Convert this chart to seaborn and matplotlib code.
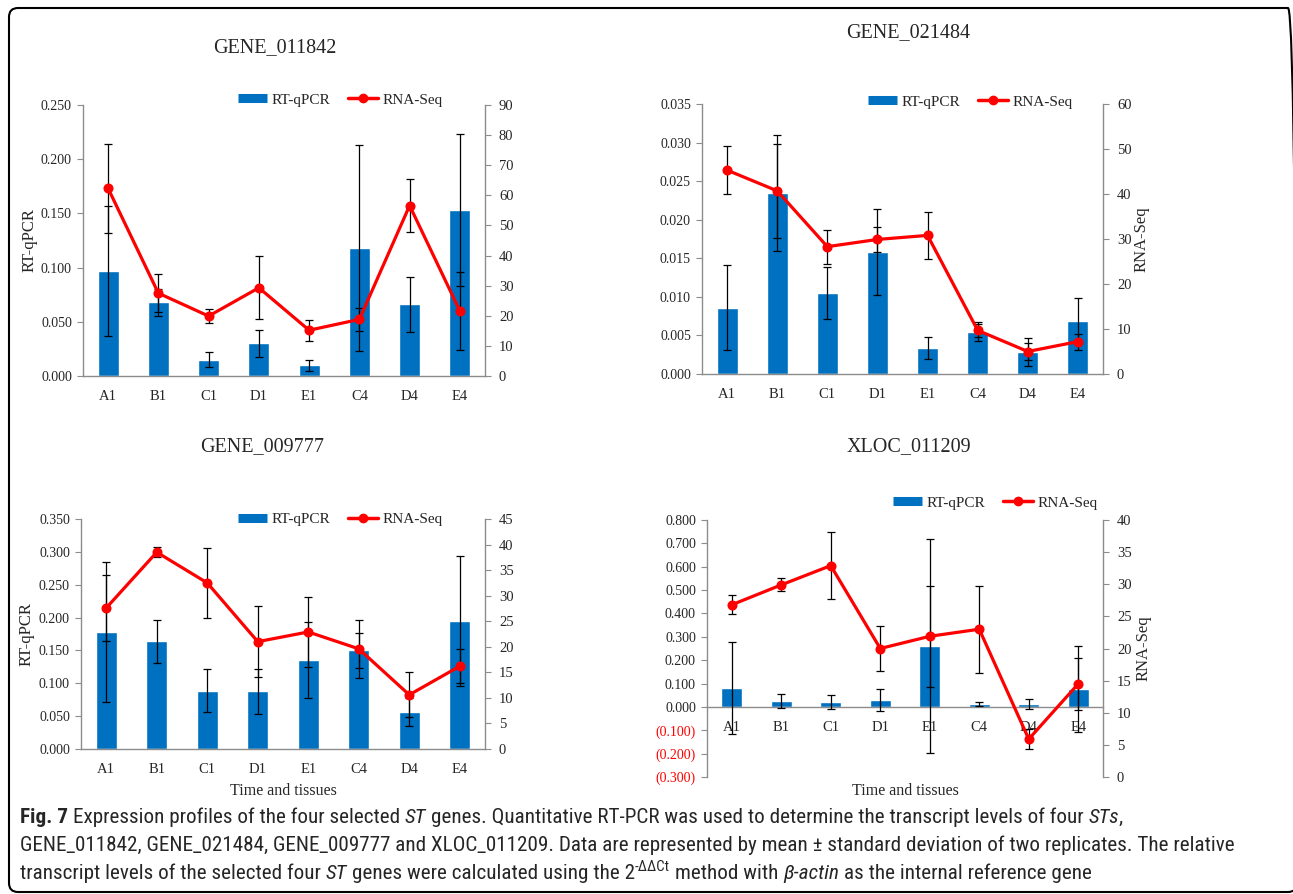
import numpy as np
import pandas as pd
import matplotlib
matplotlib.use("Agg")
import matplotlib.pyplot as plt
import seaborn as sns
from matplotlib.patches import FancyBboxPatch
from matplotlib.lines import Line2D

sns.set_style("white")
plt.rcParams['font.family'] = ['Liberation Serif', 'DejaVu Serif']
plt.rcParams['axes.unicode_minus'] = False

# 数据
samples = ["A1", "B1", "C1", "D1", "E1", "C4", "D4", "E4"]

# GENE_011842
g1_qpcr = [0.097, 0.068, 0.015, 0.030, 0.010, 0.118, 0.066, 0.153]
g1_qpcr_sd = [0.060, 0.0125, 0.007, 0.0125, 0.005, 0.095, 0.025, 0.070]
g1_seq = [62.3, 27.5, 19.9, 29.3, 15.2, 18.8, 56.6, 21.6]
g1_seq_sd = [14.7, 6.4, 2.2, 10.4, 3.5, 3.7, 8.8, 12.8]

# GENE_021484
g2_qpcr = [0.0086, 0.0235, 0.0105, 0.0158, 0.0034, 0.0055, 0.0029, 0.0069]
g2_qpcr_sd = [0.0055, 0.0075, 0.0034, 0.0056, 0.00145, 0.0012, 0.0018, 0.0029]
g2_seq = [45.3, 40.7, 28.3, 29.9, 30.8, 9.7, 5.0, 7.2]
g2_seq_sd = [5.3, 10.5, 3.8, 2.8, 5.3, 1.5, 1.85, 1.8]

# GENE_009777
g3_qpcr = [0.178, 0.164, 0.089, 0.088, 0.135, 0.150, 0.056, 0.195]
g3_qpcr_sd = [0.107, 0.033, 0.032, 0.034, 0.058, 0.026, 0.021, 0.099]
g3_seq = [27.6, 38.5, 32.5, 21.0, 22.9, 19.6, 10.6, 16.2]
g3_seq_sd = [6.5, 1.0, 6.9, 7.0, 6.8, 5.65, 4.4, 3.3]

# XLOC_011209
g4_qpcr = [0.081, 0.026, 0.021, 0.030, 0.261, 0.013, 0.013, 0.077]
g4_qpcr_sd = [0.198, 0.029, 0.028, 0.048, 0.457, 0.010, 0.020, 0.185]
g4_seq = [26.8, 29.9, 32.9, 20.0, 21.9, 23.0, 5.9, 14.5]
g4_seq_sd = [1.5, 1.0, 5.2, 3.5, 7.9, 6.8, 1.5, 4.0]

BLUE = "#0070C0"
RED = "#FF0000"
GREY = "#8C8C8C"
W, H = 1293, 894

fig = plt.figure(figsize=(W / 100, H / 100), dpi=100)


def px_rect(left, right, top, bottom):
    return [left / W, 1 - bottom / H, (right - left) / W, (bottom - top) / H]


def panel(rect, title, title_xy, qpcr, qpcr_sd, seq, seq_sd, lim, step, rlim, rstep,
          left_label=None, right_label=None, xlabel=None, leg_xy=None, zero_axis=False):
    ax = fig.add_axes(px_rect(*rect))
    df = pd.DataFrame({"sample": samples, "qpcr": qpcr})
    sns.barplot(data=df, x="sample", y="qpcr", color=BLUE, width=0.42,
                saturation=1, errorbar=None, ax=ax, zorder=2)
    ax.errorbar(np.arange(len(samples)), qpcr, yerr=qpcr_sd, fmt="none",
                ecolor="black", elinewidth=0.9, capsize=3, capthick=0.9, zorder=3)

    ax2 = ax.twinx()
    df2 = pd.DataFrame({"sample": samples, "seq": seq})
    sns.pointplot(data=df2, x="sample", y="seq", color=RED, markers="o",
                  errorbar=None, markersize=5.5, linewidth=2.3, ax=ax2)
    ax2.errorbar(np.arange(len(samples)), seq, yerr=seq_sd, fmt="none",
                 ecolor="black", elinewidth=0.9, capsize=3, capthick=0.9, zorder=1)

    ax.set_xlim(-0.5, len(samples) - 0.5)
    ax.set_ylim(*lim)
    ax2.set_ylim(*rlim)
    ticks = np.arange(lim[0], lim[1] + step / 2, step)
    ax.set_yticks(ticks)
    ax.set_yticklabels([f"({abs(t):.3f})" if t < -1e-9 else f"{abs(t):.3f}" for t in ticks])
    for t, lab in zip(ticks, ax.get_yticklabels()):
        if t < -1e-9:
            lab.set_color(RED)
    rticks = np.arange(rlim[0], rlim[1] + rstep / 2, rstep)
    ax2.set_yticks(rticks)
    ax2.set_yticklabels([f"{t:.0f}" for t in rticks])

    for a in (ax, ax2):
        a.spines["top"].set_visible(False)
        for s in a.spines.values():
            s.set_color(GREY)
            s.set_linewidth(1.0)
        a.set_xlabel("")
        a.set_ylabel("")
    ax2.spines["left"].set_visible(False)
    ax2.spines["bottom"].set_visible(False)
    ax.spines["right"].set_visible(False)
    if zero_axis:
        ax.spines["bottom"].set_position(("data", 0))

    ax.tick_params(axis="y", direction="out", length=4, color=GREY, labelsize=10, pad=4)
    ax2.tick_params(axis="y", direction="out", length=4, color=GREY, labelsize=10.5, pad=6)
    ax.tick_params(axis="x", length=0, labelsize=10.5, pad=10)

    if left_label:
        ax.set_ylabel(left_label[0], fontsize=12)
        ax.yaxis.set_label_coords(left_label[1], 0.5)
    if right_label:
        ax2.set_ylabel(right_label[0], fontsize=12)
        ax2.yaxis.set_label_coords(right_label[1], 0.5)
    if xlabel:
        ax.set_xlabel(xlabel[0], fontsize=11.5)
        ax.xaxis.set_label_coords(0.5, xlabel[1])

    fig.text(title_xy[0] / W, 1 - title_xy[1] / H, title, fontsize=14.5,
             ha="center", va="center")

    handles = [Line2D([], [], color=BLUE, lw=6.5, solid_capstyle="butt"),
               Line2D([], [], color=RED, lw=2.5, marker="o", markersize=6)]
    fig.legend(handles, ["RT-qPCR", "RNA-Seq"], loc="center",
               bbox_to_anchor=(leg_xy[0] / W, 1 - leg_xy[1] / H), ncol=2,
               frameon=False, fontsize=11, handlelength=1.9, handletextpad=0.3,
               columnspacing=1.2, borderaxespad=0, borderpad=0)
    return ax, ax2


panel((83, 485, 105, 376), "GENE_011842", (275, 48), g1_qpcr, g1_qpcr_sd, g1_seq, g1_seq_sd,
      (0, 0.25), 0.05, (0, 90), 10, left_label=("RT-qPCR", -0.112), leg_xy=(340, 100))
panel((702, 1103, 104, 374), "GENE_021484", (908, 33), g2_qpcr, g2_qpcr_sd, g2_seq, g2_seq_sd,
      (0, 0.035), 0.005, (0, 60), 10, right_label=("RNA-Seq", 1.077), leg_xy=(970, 102))
panel((81, 485, 519, 749), "GENE_009777", (262, 447), g3_qpcr, g3_qpcr_sd, g3_seq, g3_seq_sd,
      (0, 0.35), 0.05, (0, 45), 5, left_label=("RT-qPCR", -0.114),
      xlabel=("Time and tissues", -0.148), leg_xy=(340, 519))
panel((707, 1103, 520, 777), "XLOC_011209", (909, 447), g4_qpcr, g4_qpcr_sd, g4_seq, g4_seq_sd,
      (-0.3, 0.8), 0.1, (0, 40), 5, right_label=("RNA-Seq", 1.081),
      xlabel=("Time and tissues", -0.023), leg_xy=(995, 503), zero_axis=True)

# 图注（分段排版）
cap_family = ['Liberation Sans Narrow', 'Roboto Condensed', 'Roboto', 'DejaVu Sans']
caption = [
    [("Fig. 7", "bold", "normal", False), ("Expression profiles of the four selected", "normal", "normal", True),
     ("ST", "normal", "italic", True), ("genes. Quantitative RT-PCR was used to determine the transcript levels of four", "normal", "normal", True),
     ("STs", "normal", "italic", True), (",", "normal", "normal", False)],
    [("GENE_011842, GENE_021484, GENE_009777 and XLOC_011209. Data are represented by mean \u00b1 standard deviation of two replicates. The relative", "normal", "normal", False)],
    [("transcript levels of the selected four", "normal", "normal", False), ("ST", "normal", "italic", True),
     ("genes were calculated using the 2", "normal", "normal", True), ("-\u0394\u0394Ct", "sup", "normal", False),
     ("method with", "normal", "normal", True), ("\u03b2-actin", "normal", "italic", True),
     ("as the internal reference gene", "normal", "normal", True)],
]
renderer = fig.canvas.get_renderer()


def run_width(text, size, weight="normal", style="normal"):
    t = fig.text(0, 0, text, fontsize=size, family=cap_family, weight=weight, style=style)
    w = t.get_window_extent(renderer).width
    t.remove()
    return w


base = 14.0
scale = (1245 - 20) / run_width(caption[1][0][0], base)
size = base * scale
space = run_width("a a", size) - run_width("aa", size)

for line, base_y in zip(caption, (823, 851, 879)):
    x = 20.0
    for text, weight, style, gap in line:
        if gap:
            x += space
        fsize = size
        y = base_y
        if weight == "sup":
            fsize = size * 0.7
            y = base_y - size * 0.55
            weight = "normal"
        t = fig.text(x / W, 1 - y / H, text, fontsize=fsize, family=cap_family,
                     weight=weight, style=style, va="baseline", ha="left")
        x += t.get_window_extent(renderer).width

# 外框
fig.add_artist(FancyBboxPatch((9, 2), 1288, 884, boxstyle="round,pad=0,rounding_size=9",
                              transform=None, fill=False, lw=1.5, ec="black"))

fig.savefig("out.png", dpi=100)
